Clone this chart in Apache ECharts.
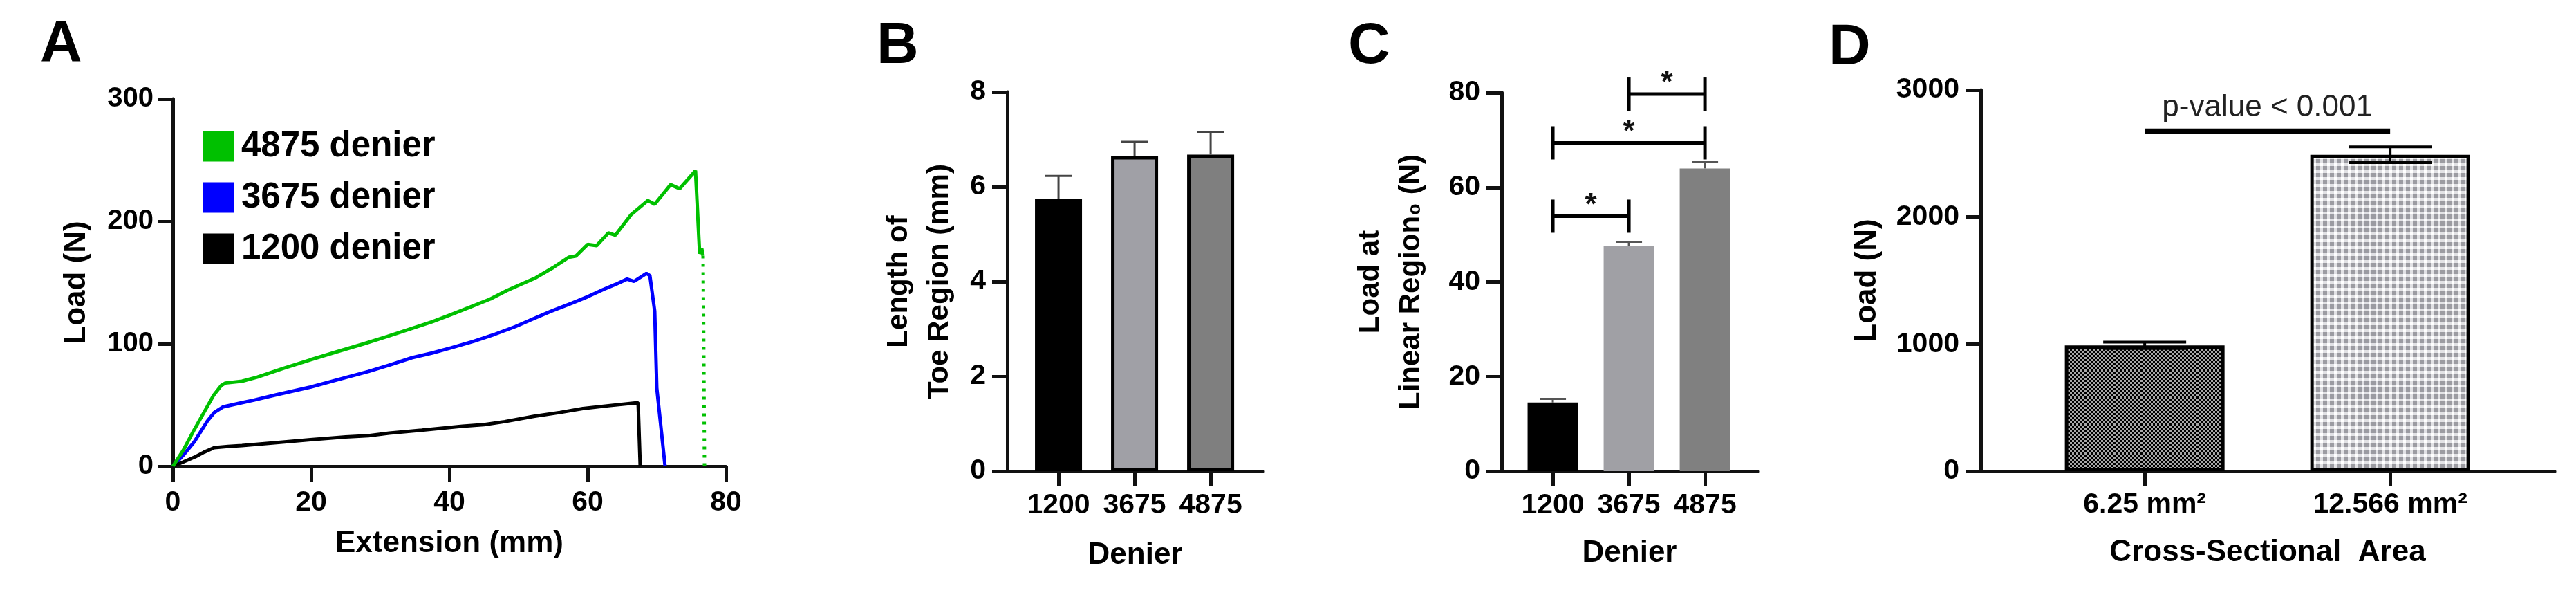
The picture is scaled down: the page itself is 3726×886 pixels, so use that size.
<!DOCTYPE html>
<html>
<head>
<meta charset="utf-8">
<script src="https://cdn.jsdelivr.net/npm/echarts@6/dist/echarts.min.js"></script>
<style>
html,body{margin:0;padding:0;background:#fff;}
#chart{width:3726px;height:886px;}
</style>
</head>
<body>
<div id="chart"></div>
<script>
// ---------- DATA ----------
// Panel A: load-extension curves [extension (mm), load (N)]
const curve4875 = [[0,0],[1.5,13],[3.1,30],[4.5,44],[5.9,58],[7,66],[7.6,68],[10,69.5],[12.2,72.8],[16,80],[19.9,87],[23.7,93.5],[27.6,100],[31,106],[34.6,112.7],[37.5,118],[40.2,123.8],[43,130],[45.9,136.6],[48.3,143.5],[50.5,149],[52.5,154],[55,162.3],[57.3,170.8],[58.3,171.8],[60,181.2],[61.3,180.2],[63,190.6],[64,188.7],[66.3,205.6],[68.7,217],[69.7,214],[72,230],[73.3,226.7],[75.6,241.4],[76.2,173.6],[76.5,177.8],[76.7,172]];
const curve4875Tail = [[76.7,172],[76.9,0]];
const curve3675 = [[0,0],[1.5,9],[3.1,20],[4,28],[5,37],[6,44],[7.3,48.6],[10,52],[11.7,54],[15,58.5],[19.9,64.7],[24,71],[28.3,77.5],[31.5,83],[34.6,88.7],[37.5,92.5],[40.2,96.7],[43.5,102],[46.6,107.9],[49.5,114],[52.2,120.6],[54.7,126.6],[57.8,133.4],[60,138.5],[62.3,144.5],[64,148.5],[65.7,152.9],[66.7,151],[68.5,157.6],[69.0,155.8],[69.7,126.6],[70,64],[71.2,0]];
const curve1200 = [[0,0],[1.5,3.5],[3.3,7.9],[4.5,11.5],[6,15.3],[8,16.2],[10,16.9],[15,19.3],[19.9,21.7],[25,24],[28.3,25],[31.3,27.1],[36,29.5],[41.9,32.8],[45,34],[48,36.5],[52.2,40.8],[56,44],[59.3,47.2],[63,49.5],[67.3,52],[67.6,0]];
const seriesNamesA = ['4875 denier','3675 denier','1200 denier'];

// Panel B: length of toe region (mm)
const denierCats = ['1200','3675','4875'];
const toeMean = [5.75, 6.65, 6.68];
const toeErr  = [0.48, 0.30, 0.48];

// Panel C: load at linear region0 (N)
const linMean = [14.5, 47.6, 64.0];
const linErr  = [0.8, 0.9, 1.3];
// significance brackets: [from category idx, to category idx, height (N)]
const linBrackets = [[0,1,53.9],[0,2,69.4],[1,2,79.7]];
const linBracketLabels = ['*','*','*'];

// Panel D: load (N) by cross-sectional area
const areaCats = ['6.25 mm\u00B2','12.566 mm\u00B2'];
const areaMean = [990, 2490];
const areaErr  = [25, 62];
const areaSig = [[0,1,2675]];
const areaSigLabels = ['p-value < 0.001'];

// ---------- STYLE ----------
const FONT = "'Liberation Sans', Arial, Helvetica, sans-serif";
const AX = '#111';
const colorsA = ['#00c000','#0000ff','#000000'];
const fillB = ['#000000','#a0a0a6','#7f7f7f'];
const fillC = ['#000000','#a0a0a5','#808080'];

function makePattern(size, bg, squares){
  const c = document.createElement('canvas');
  c.width = size; c.height = size;
  const g = c.getContext('2d');
  g.fillStyle = bg; g.fillRect(0,0,size,size);
  squares.forEach(s => { g.fillStyle = s[4]; g.fillRect(s[0],s[1],s[2],s[3]); });
  return c;
}
const darkChecker = makePattern(6,'#a8a8a8',[[0,0,3,3,'#000'],[3,3,3,3,'#000']]);
const lightChecker = makePattern(10,'#e2e2e5',[[0,0,6,6,'#9c9ca2'],[6,6,4,4,'#ffffff']]);
const fillD = [{image: darkChecker, repeat:'repeat'},{image: lightChecker, repeat:'repeat'}];

function axisCommon(){
  return {
    axisLine:{show:true, onZero:false, lineStyle:{color:AX, width:5}},
    axisTick:{show:true, length:22, lineStyle:{color:AX, width:5}},
    splitLine:{show:false},
    axisLabel:{color:'#000', fontSize:41, fontWeight:'bold', fontFamily:FONT},
    nameTextStyle:{color:'#000', fontSize:44, fontWeight:'bold', fontFamily:FONT}
  };
}
function mergeAxis(extra){
  const a = axisCommon();
  for (const k in extra){
    if (typeof extra[k] === 'object' && !Array.isArray(extra[k]) && a[k]) a[k] = Object.assign({}, a[k], extra[k]);
    else a[k] = extra[k];
  }
  return a;
}
const plain = v => String(v);

function errRender(capW, color, lw, both){
  return function(params, api){
    const x = api.value(0), m = api.value(1), e = api.value(2);
    const top = api.coord([x, m+e]);
    const bot = api.coord([x, both ? m-e : m]);
    const ch = [
      {type:'line', shape:{x1:top[0], y1:top[1], x2:bot[0], y2:bot[1]}, style:{stroke:color, lineWidth:lw}},
      {type:'line', shape:{x1:top[0]-capW/2, y1:top[1], x2:top[0]+capW/2, y2:top[1]}, style:{stroke:color, lineWidth:lw}}
    ];
    if (both) ch.push({type:'line', shape:{x1:bot[0]-capW/2, y1:bot[1], x2:bot[0]+capW/2, y2:bot[1]}, style:{stroke:color, lineWidth:lw}});
    return {type:'group', children:ch};
  };
}
function bracketRender(labels, opts){
  return function(params, api){
    const a = api.coord([api.value(0), api.value(2)]);
    const b = api.coord([api.value(1), api.value(2)]);
    const ch = [{type:'line', shape:{x1:a[0], y1:a[1], x2:b[0], y2:b[1]}, style:{stroke:'#000', lineWidth:opts.lw}}];
    if (opts.ends){
      ch.push({type:'line', shape:{x1:a[0], y1:a[1]-opts.ends, x2:a[0], y2:a[1]+opts.ends}, style:{stroke:'#000', lineWidth:opts.lw}});
      ch.push({type:'line', shape:{x1:b[0], y1:b[1]-opts.ends, x2:b[0], y2:b[1]+opts.ends}, style:{stroke:'#000', lineWidth:opts.lw}});
    }
    ch.push({type:'text', style:{text:labels[params.dataIndex], x:(a[0]+b[0])/2, y:a[1]-opts.textGap, align:'center', verticalAlign:opts.va, font:opts.font, fill:opts.color}});
    return {type:'group', children:ch};
  };
}

// ---------- BUILD ----------
const catPos = arr => arr.map((_, i) => i + 1);
const barData = (mean, fills, border) => mean.map((v, i) => ({value:[i+1, v], itemStyle:{color:fills[i], borderColor:'#000', borderWidth:border}}));
const errData = (mean, err) => mean.map((v, i) => [i+1, v, err[i]]);
const brData = br => br.map(b => [b[0]+1, b[1]+1, b[2]]);

const chart = echarts.init(document.getElementById('chart'), null, {renderer:'canvas'});
const titleStyle = {fontSize:84, fontWeight:'bold', color:'#000', fontFamily:FONT};
const option = {
  backgroundColor:'#fff',
  animation:false,
  textStyle:{fontFamily:FONT},
  title:[
    {text:'A', left:58, top:24, padding:0, textStyle:titleStyle},
    {text:'B', left:1268, top:26, padding:0, textStyle:titleStyle},
    {text:'C', left:1950, top:26, padding:0, textStyle:titleStyle},
    {text:'D', left:2645, top:28, padding:0, textStyle:titleStyle}
  ],
  legend:{
    data:seriesNamesA, orient:'vertical', left:294, top:186, padding:0,
    itemWidth:44, itemHeight:44, itemGap:23, icon:'rect', selectedMode:false,
    textStyle:{fontSize:51, fontWeight:'bold', color:'#000', fontFamily:FONT, lineHeight:44, padding:[0,0,0,6]}
  },
  grid:[
    {left:250, top:143, width:800, height:531},
    {left:1457, top:133, width:370, height:548},
    {left:2172, top:134, width:370, height:547},
    {left:2865, top:130, width:830, height:551}
  ],
  xAxis:[
    mergeAxis({gridIndex:0, type:'value', min:0, max:80, interval:20, name:'Extension (mm)', nameLocation:'middle', nameGap:90,
      axisLabel:{margin:32, fontSize:41}}),
    mergeAxis({gridIndex:1, type:'value', min:0.327, max:3.69, name:'Denier', nameLocation:'middle', nameGap:100,
      axisTick:{customValues:catPos(denierCats)}, axisLabel:{margin:29, customValues:catPos(denierCats), formatter:v => denierCats[Math.round(v)-1]}}),
    mergeAxis({gridIndex:2, type:'value', min:0.327, max:3.69, name:'Denier', nameLocation:'middle', nameGap:97,
      axisTick:{customValues:catPos(denierCats)}, axisLabel:{margin:29, customValues:catPos(denierCats), formatter:v => denierCats[Math.round(v)-1]}}),
    mergeAxis({gridIndex:3, type:'value', min:0.332, max:2.67, name:'Cross-Sectional  Area', nameLocation:'middle', nameGap:96,
      axisTick:{customValues:catPos(areaCats)}, axisLabel:{margin:28, customValues:catPos(areaCats), formatter:v => areaCats[Math.round(v)-1]}})
  ],
  yAxis:[
    mergeAxis({gridIndex:0, type:'value', min:0, max:300, interval:100, name:'Load (N)', nameLocation:'middle', nameGap:117, nameRotate:90,
      axisLabel:{margin:28, fontSize:40, formatter:plain}}),
    mergeAxis({gridIndex:1, type:'value', min:0, max:8, interval:2, name:'Length of\nToe Region (mm)', nameLocation:'middle', nameGap:68, nameRotate:90,
      axisLabel:{margin:31, formatter:plain}, nameTextStyle:{fontSize:42, lineHeight:59}}),
    mergeAxis({gridIndex:2, type:'value', min:0, max:80, interval:20, name:'Load at\nLinear Region\u2080 (N)', nameLocation:'middle', nameGap:101, nameRotate:90,
      axisLabel:{margin:31, formatter:plain}, nameTextStyle:{fontSize:42, lineHeight:59}}),
    mergeAxis({gridIndex:3, type:'value', min:0, max:3000, interval:1000, name:'Load (N)', nameLocation:'middle', nameGap:142, nameRotate:90,
      axisLabel:{margin:31, formatter:plain}})
  ],
  series:[
    {name:seriesNamesA[0], type:'line', xAxisIndex:0, yAxisIndex:0, data:curve4875, showSymbol:false, symbol:'none', lineStyle:{color:colorsA[0], width:5}, itemStyle:{color:colorsA[0]}, z:4},
    {name:seriesNamesA[0], type:'line', xAxisIndex:0, yAxisIndex:0, data:curve4875Tail, showSymbol:false, symbol:'none', lineStyle:{color:colorsA[0], width:5, type:[4,8]}, itemStyle:{color:colorsA[0]}, z:4},
    {name:seriesNamesA[1], type:'line', xAxisIndex:0, yAxisIndex:0, data:curve3675, showSymbol:false, symbol:'none', lineStyle:{color:colorsA[1], width:5}, itemStyle:{color:colorsA[1]}, z:3},
    {name:seriesNamesA[2], type:'line', xAxisIndex:0, yAxisIndex:0, data:curve1200, showSymbol:false, symbol:'none', lineStyle:{color:colorsA[2], width:5}, itemStyle:{color:colorsA[2]}, z:3},

    {type:'bar', xAxisIndex:1, yAxisIndex:1, barWidth:68, data:barData(toeMean, fillB, 5), z:2},
    {type:'custom', xAxisIndex:1, yAxisIndex:1, data:errData(toeMean, toeErr), renderItem:errRender(39,'#444',3,false), z:3},

    {type:'bar', xAxisIndex:2, yAxisIndex:2, barWidth:73, data:barData(linMean, fillC, 0), z:2},
    {type:'custom', xAxisIndex:2, yAxisIndex:2, data:errData(linMean, linErr), renderItem:errRender(38,'#555',3,false), z:3},
    {type:'custom', xAxisIndex:2, yAxisIndex:2, data:brData(linBrackets), renderItem:bracketRender(linBracketLabels,{lw:5, ends:24, textGap:15, va:'middle', font:'bold 44px '+FONT, color:'#111'}), z:4},

    {type:'bar', xAxisIndex:3, yAxisIndex:3, barWidth:231, data:barData(areaMean, fillD, 5), z:2},
    {type:'custom', xAxisIndex:3, yAxisIndex:3, data:errData(areaMean, areaErr), renderItem:errRender(120,'#000',4,true), z:3},
    {type:'custom', xAxisIndex:3, yAxisIndex:3, data:brData(areaSig), renderItem:bracketRender(areaSigLabels,{lw:8, ends:0, textGap:12, va:'bottom', font:'44px '+FONT, color:'#222'}), z:4}
  ]
};
chart.setOption(option);
</script>
</body>
</html>
